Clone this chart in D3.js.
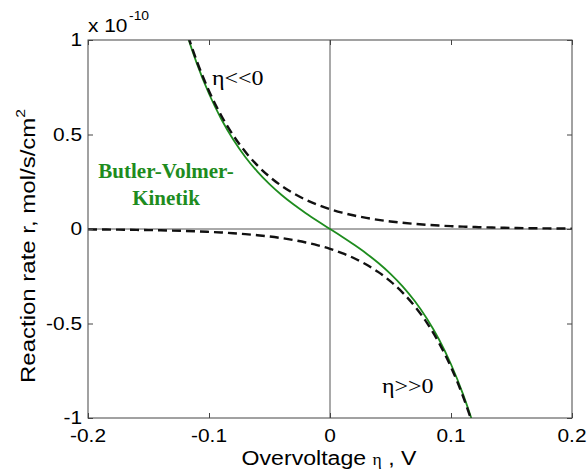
<!DOCTYPE html>
<html>
<head>
<meta charset="utf-8">
<script src="https://cdn.jsdelivr.net/npm/d3@7"></script>
<style>
  html, body { margin: 0; padding: 0; background: #fff; }
  svg { display: block; }
</style>
</head>
<body>
<svg id="chart" width="587" height="473"></svg>
<script>
// Overvoltage eta (V)
const eta = [-0.20,-0.19,-0.18,-0.17,-0.16,-0.15,-0.14,-0.13,-0.12,-0.11,-0.10,
             -0.09,-0.08,-0.07,-0.06,-0.05,-0.04,-0.03,-0.02,-0.01,0.00,
              0.01,0.02,0.03,0.04,0.05,0.06,0.07,0.08,0.09,0.10,
              0.11,0.12,0.13,0.14,0.15,0.16,0.17,0.18,0.19,0.20];

// Reaction rate (x 1e-10 mol/s/cm^2), Butler-Volmer net rate
const butlerVolmer = [null,null,null,null,null,null,null,1.2992,1.0668,0.8747,0.7156,
                      0.5835,0.4735,0.3813,0.3035,0.2372,0.1798,0.1292,0.0836,0.0410,0.0000,
                      -0.0410,-0.0836,-0.1292,-0.1798,-0.2372,-0.3035,-0.3813,-0.4735,-0.5835,-0.7156,
                      -0.8747,-1.0668,-1.2992,null,null,null,null,null,null,null];

// Cathodic branch (eta << 0 asymptote)
const cathodic = [null,null,null,null,null,null,null,1.3076,1.0770,0.8871,0.7307,
                  0.6018,0.4957,0.4083,0.3363,0.2770,0.2281,0.1879,0.1548,0.1275,0.1050,
                  0.0865,0.0712,0.0587,0.0483,0.0398,0.0328,0.0270,0.0222,0.0183,0.0151,
                  0.0124,0.0102,0.0084,0.0069,0.0057,0.0047,0.0039,0.0032,0.0026,0.0021];

// Anodic branch (eta >> 0 asymptote)
const anodic = [-0.0021,-0.0026,-0.0032,-0.0039,-0.0047,-0.0057,-0.0069,-0.0084,-0.0102,-0.0124,-0.0151,
                -0.0183,-0.0222,-0.0270,-0.0328,-0.0398,-0.0483,-0.0587,-0.0712,-0.0865,-0.1050,
                -0.1275,-0.1548,-0.1879,-0.2281,-0.2770,-0.3363,-0.4083,-0.4957,-0.6018,-0.7307,
                -0.8871,-1.0770,-1.3076,null,null,null,null,null,null,null];

const xTicks = [-0.2, -0.1, 0, 0.1, 0.2];
const xTickLabels = ["-0.2", "-0.1", "0", "0.1", "0.2"];
const yTicks = [-1, -0.5, 0, 0.5, 1];
const yTickLabels = ["-1", "-0.5", "0", "0.5", "1"];

const svg = d3.select("#chart");
const plot = { left: 88, right: 572, top: 40, bottom: 418 };

const x = d3.scaleLinear().domain([-0.2, 0.2]).range([plot.left, plot.right]);
const y = d3.scaleLinear().domain([-1, 1]).range([plot.bottom, plot.top]);

const sans = "'Liberation Sans', Arial, Helvetica, sans-serif";
const serif = "'Liberation Serif', 'Times New Roman', serif";
const green = "#1e8c1e";

svg.append("rect").attr("width", 587).attr("height", 473).attr("fill", "#fff");

svg.append("defs").append("clipPath").attr("id", "plotClip")
  .append("rect")
  .attr("x", plot.left).attr("y", plot.top)
  .attr("width", plot.right - plot.left).attr("height", plot.bottom - plot.top);

// zero reference lines
svg.append("line")
  .attr("x1", x(0)).attr("x2", x(0)).attr("y1", plot.top).attr("y2", plot.bottom)
  .attr("stroke", "#555").attr("stroke-width", 1);
svg.append("line")
  .attr("x1", plot.left).attr("x2", plot.right).attr("y1", y(0)).attr("y2", y(0))
  .attr("stroke", "#555").attr("stroke-width", 1);

// curves
const g = svg.append("g").attr("clip-path", "url(#plotClip)");
function series(vals) {
  return eta.map((e, i) => ({ e, v: vals[i] }));
}
const line = d3.line()
  .defined(d => d.v !== null)
  .x(d => x(d.e)).y(d => y(d.v))
  .curve(d3.curveMonotoneX);

g.append("path").datum(series(butlerVolmer))
  .attr("d", line).attr("fill", "none")
  .attr("stroke", green).attr("stroke-width", 1.8);

[cathodic, anodic].forEach(vals => {
  g.append("path").datum(series(vals))
    .attr("d", line).attr("fill", "none")
    .attr("stroke", "#111").attr("stroke-width", 2.4)
    .attr("stroke-dasharray", "9,5");
});

// axes box with inward ticks on all sides
const tickLen = 5;
const axisColor = "#444";
function styleAxis(sel) {
  sel.select(".domain").remove();
  sel.selectAll(".tick line").attr("stroke", axisColor);
  sel.selectAll(".tick text").remove();
}
svg.append("g").attr("transform", `translate(0,${plot.bottom})`)
  .call(d3.axisBottom(x).tickValues(xTicks).tickSizeInner(-tickLen).tickSizeOuter(0)).call(styleAxis);
svg.append("g").attr("transform", `translate(0,${plot.top})`)
  .call(d3.axisTop(x).tickValues(xTicks).tickSizeInner(-tickLen).tickSizeOuter(0)).call(styleAxis);
svg.append("g").attr("transform", `translate(${plot.left},0)`)
  .call(d3.axisLeft(y).tickValues(yTicks).tickSizeInner(-tickLen).tickSizeOuter(0)).call(styleAxis);
svg.append("g").attr("transform", `translate(${plot.right},0)`)
  .call(d3.axisRight(y).tickValues(yTicks).tickSizeInner(-tickLen).tickSizeOuter(0)).call(styleAxis);

svg.append("rect")
  .attr("x", plot.left).attr("y", plot.top)
  .attr("width", plot.right - plot.left).attr("height", plot.bottom - plot.top)
  .attr("fill", "none").attr("stroke", axisColor).attr("stroke-width", 1);

// text helper: horizontally widened glyphs, optional rotation
function label(px, py, opts) {
  const grp = svg.append("g")
    .attr("transform", `translate(${px},${py}) rotate(${opts.rotate || 0}) scale(${opts.sx || 1},1)`);
  const t = grp.append("text")
    .attr("x", 0).attr("y", 0)
    .attr("text-anchor", opts.anchor || "start")
    .attr("font-family", opts.family || sans)
    .attr("font-size", opts.size || 18)
    .attr("font-weight", opts.weight || "normal")
    .attr("fill", opts.fill || "#000");
  if (opts.text !== undefined) t.text(opts.text);
  return t;
}

// tick labels
xTicks.forEach((v, i) => {
  label(x(v), 442, { text: xTickLabels[i], anchor: "middle", size: 18, sx: 1.16 });
});
yTicks.forEach((v, i) => {
  label(82, y(v) + 6, { text: yTickLabels[i], anchor: "end", size: 18, sx: 1.16 });
});

// exponent marker
label(88, 32, { text: "x 10", size: 18, sx: 1.16 });
label(129, 20, { text: "-10", size: 12, sx: 1.16 });

// x axis title
const xt = label(329, 465, { anchor: "middle", size: 21, sx: 1.1 });
xt.append("tspan").text("Overvoltage ");
xt.append("tspan").attr("font-family", serif).attr("font-size", 16).text("η");
xt.append("tspan").text(" , V");

// y axis title
const yt = label(35, 383, { rotate: -90, size: 20, sx: 1.2 });
yt.append("tspan").text("Reaction rate r, mol/s/cm");
yt.append("tspan").attr("font-size", 13).attr("dy", -10).text("2");

// curve annotations
label(212, 85, { text: "η<<0", family: serif, size: 20, sx: 1.2 });
label(382, 393, { text: "η>>0", family: serif, size: 20, sx: 1.2 });

label(166, 178, { text: "Butler-Volmer-", family: serif, size: 21, weight: "bold", fill: green, anchor: "middle" });
label(166, 205, { text: "Kinetik", family: serif, size: 21, weight: "bold", fill: green, anchor: "middle" });
</script>
</body>
</html>
